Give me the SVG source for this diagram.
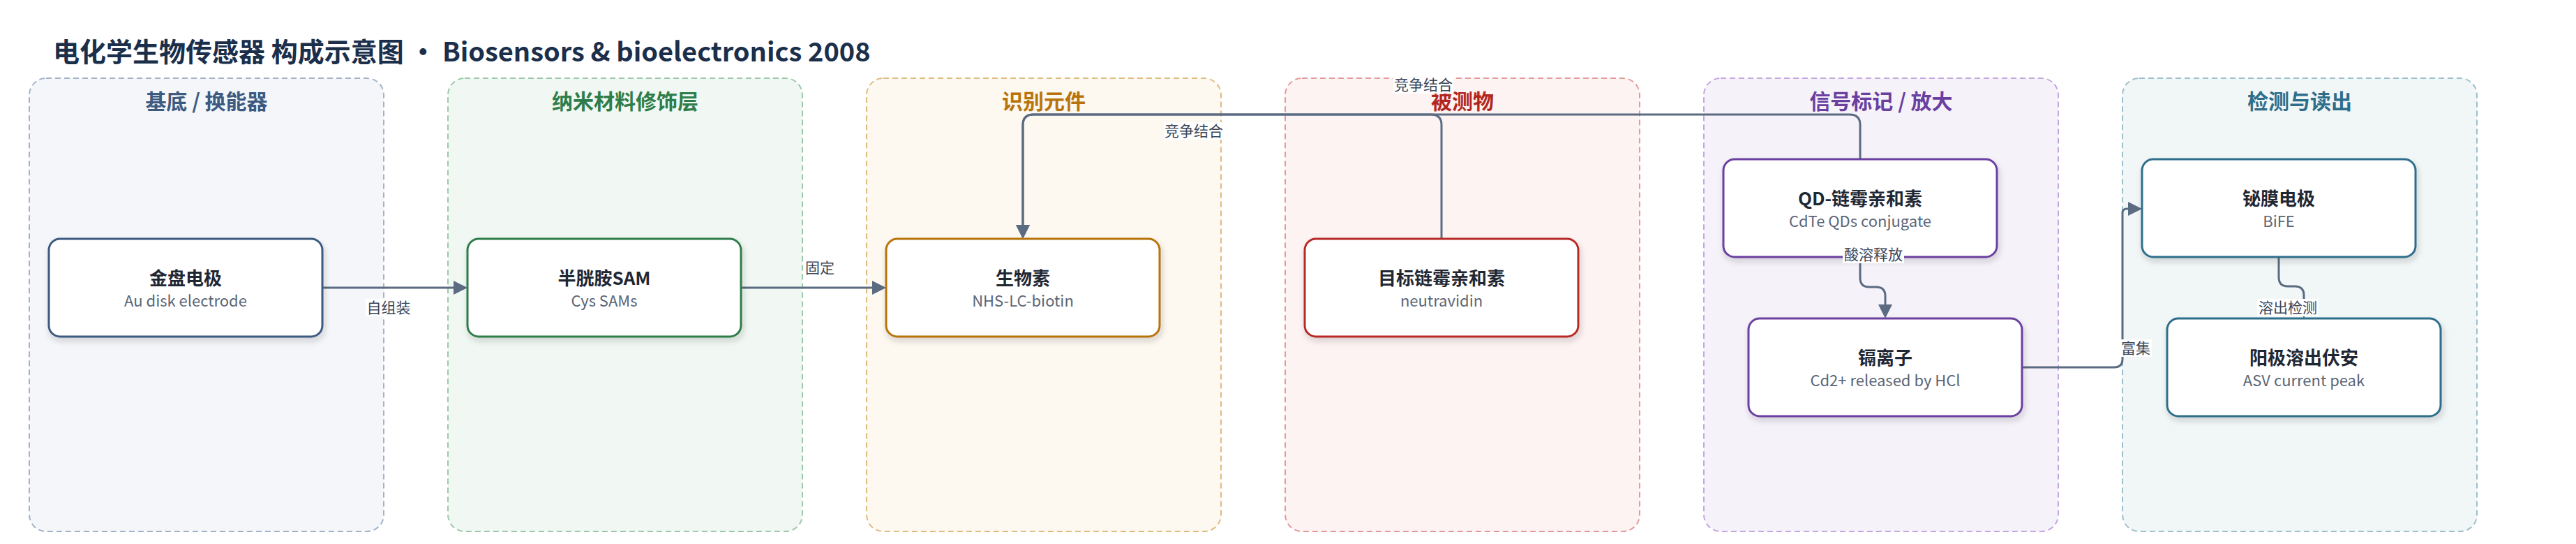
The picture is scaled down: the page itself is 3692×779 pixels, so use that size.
<svg xmlns="http://www.w3.org/2000/svg" width="3692" height="779" viewBox="0 0 3692 779">
<defs>
<style>
text{font-family:"Noto Sans CJK SC","Noto Sans",sans-serif;}
.title{font-size:38px;font-weight:700;fill:#1b2f4b;}
.ct{font-size:30px;font-weight:700;text-anchor:middle;}
.cl{stroke-width:2;stroke-dasharray:8 5;}
.nd{fill:#ffffff;stroke-width:3;filter:url(#sh);}
.nt{font-size:26px;font-weight:700;fill:#1f2733;text-anchor:middle;}
.ns{font-size:22px;fill:#5b6676;text-anchor:middle;}
.e{fill:none;stroke:#5a6b82;stroke-width:3;}
.lb{fill:#ffffff;}
.lt{font-size:21px;fill:#3a4658;text-anchor:middle;}
</style>
<filter id="sh" x="-10%" y="-10%" width="120%" height="140%">
<feDropShadow dx="2" dy="5" stdDeviation="4" flood-color="#1f2733" flood-opacity="0.18"/>
</filter>
<marker id="ar" markerUnits="userSpaceOnUse" markerWidth="20" markerHeight="20" refX="0" refY="10" orient="auto">
<path d="M0,0 L20,10 L0,20 Z" fill="#5a6b82"/>
</marker>
</defs>
<rect width="3692" height="779" fill="#ffffff"/>
<text class="title" x="76" y="88">电化学生物传感器 构成示意图 • Biosensors &amp; bioelectronics 2008</text>

<g id="clusters">
<g id="cluster-substrate"><rect class="cl" x="42" y="112" width="508" height="649" rx="24" fill="#f4f6fa" stroke="#a3b2c8"/><text class="ct" x="296" y="156" fill="#3d5a80">基底 / 换能器</text></g>
<g id="cluster-nano"><rect class="cl" x="642" y="112" width="508" height="649" rx="24" fill="#f1f8f3" stroke="#9cc8aa"/><text class="ct" x="896" y="156" fill="#2e7d4a">纳米材料修饰层</text></g>
<g id="cluster-recog"><rect class="cl" x="1242" y="112" width="508" height="649" rx="24" fill="#fdf8f0" stroke="#e0bb80"/><text class="ct" x="1496" y="156" fill="#b8730a">识别元件</text></g>
<g id="cluster-analyte"><rect class="cl" x="1842" y="112" width="508" height="649" rx="24" fill="#fdf3f2" stroke="#e49a98"/><text class="ct" x="2096" y="156" fill="#b3261e">被测物</text></g>
<g id="cluster-signal"><rect class="cl" x="2442" y="112" width="508" height="649" rx="24" fill="#f6f2fa" stroke="#c4a6e0"/><text class="ct" x="2696" y="156" fill="#6a3fa0">信号标记 / 放大</text></g>
<g id="cluster-detect"><rect class="cl" x="3042" y="112" width="508" height="649" rx="24" fill="#f1f6f7" stroke="#9dbfcc"/><text class="ct" x="3296" y="156" fill="#2e6e8a">检测与读出</text></g>
</g>

<g id="connectors">
<path class="e" marker-end="url(#ar)" d="M462,412 L650,412"/>
<path class="e" marker-end="url(#ar)" d="M1062,412 L1250,412"/>
<path class="e" marker-end="url(#ar)" d="M2066,342 L2066,179 Q2066,164 2051,164 L1481,164 Q1466,164 1466,179 L1466,322"/>
<path class="e" marker-end="url(#ar)" d="M2666,228 L2666,179 Q2666,164 2651,164 L1481,164 Q1466,164 1466,179 L1466,322"/>
<path class="e" marker-end="url(#ar)" d="M2666,368 L2666,398 Q2666,411 2679,411 L2689,411 Q2702,411 2702,424 L2702,436"/>
<path class="e" marker-end="url(#ar)" d="M2898,526 L3030,526 Q3042,526 3042,514 L3042,305 Q3042,299 3048,299 L3050,299"/>
<path class="e" marker-end="url(#ar)" d="M3266,368 L3266,397 Q3266,410 3279,410 L3289,410 Q3302,410 3302,423 L3302,436"/>
</g>

<g id="node-au"><rect class="nd" x="70" y="342" width="392" height="140" rx="16" stroke="#3d5a80"/><text class="nt" x="266" y="408">金盘电极</text><text class="ns" x="266" y="439">Au disk electrode</text></g>
<g id="node-cys"><rect class="nd" x="670" y="342" width="392" height="140" rx="16" stroke="#2e7d4a"/><text class="nt" x="866" y="408">半胱胺SAM</text><text class="ns" x="866" y="439">Cys SAMs</text></g>
<g id="node-biotin"><rect class="nd" x="1270" y="342" width="392" height="140" rx="16" stroke="#b8730a"/><text class="nt" x="1466" y="408">生物素</text><text class="ns" x="1466" y="439">NHS-LC-biotin</text></g>
<g id="node-target"><rect class="nd" x="1870" y="342" width="392" height="140" rx="16" stroke="#b82a26"/><text class="nt" x="2066" y="408">目标链霉亲和素</text><text class="ns" x="2066" y="439">neutravidin</text></g>
<g id="node-qd"><rect class="nd" x="2470" y="228" width="392" height="140" rx="16" stroke="#6a3fa0"/><text class="nt" x="2666" y="294">QD-链霉亲和素</text><text class="ns" x="2666" y="325">CdTe QDs conjugate</text></g>
<g id="node-cd"><rect class="nd" x="2506" y="456" width="392" height="140" rx="16" stroke="#6a3fa0"/><text class="nt" x="2702" y="522">镉离子</text><text class="ns" x="2702" y="553">Cd2+ released by HCl</text></g>
<g id="node-bife"><rect class="nd" x="3070" y="228" width="392" height="140" rx="16" stroke="#2e6e8a"/><text class="nt" x="3266" y="294">铋膜电极</text><text class="ns" x="3266" y="325">BiFE</text></g>
<g id="node-asv"><rect class="nd" x="3106" y="456" width="392" height="140" rx="16" stroke="#2e6e8a"/><text class="nt" x="3302" y="522">阳极溶出伏安</text><text class="ns" x="3302" y="553">ASV current peak</text></g>

<g id="connector-labels">
<rect class="lb" x="524" y="428" width="66" height="25"/><text class="lt" x="557" y="448">自组装</text>
<rect class="lb" x="1152" y="371" width="46" height="25"/><text class="lt" x="1175" y="391">固定</text>
<rect class="lb" x="1668" y="175" width="86" height="25"/><text class="lt" x="1711" y="195">竞争结合</text>
<rect class="lb" x="1997" y="109" width="86" height="25"/><text class="lt" x="2040" y="129">竞争结合</text>
<rect class="lb" x="2641" y="352" width="88" height="25"/><text class="lt" x="2685" y="372">酸溶释放</text>
<rect class="lb" x="3039" y="486" width="45" height="25"/><text class="lt" x="3061" y="506">富集</text>
<rect class="lb" x="3235" y="428" width="88" height="25"/><text class="lt" x="3279" y="448">溶出检测</text>
</g>
</svg>
